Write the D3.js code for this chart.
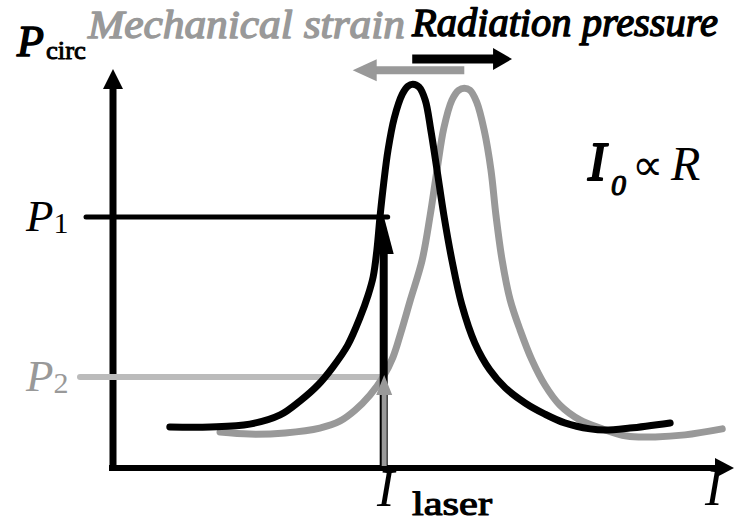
<!DOCTYPE html>
<html><head><meta charset="utf-8">
<script src="https://cdn.jsdelivr.net/npm/d3@7/dist/d3.min.js"></script>
<style>
html,body{margin:0;padding:0;background:#fff;}
svg{display:block;}
</style></head>
<body>
<svg id="c" width="742" height="522" font-family="'Liberation Serif','Times New Roman',serif"></svg>
<script>
// Data (arbitrary units: wavelength 0-100, circulating power 0-100)
const blackCurve = [[9.0,10.3],[15.5,10.3],[21.9,11.0],[26.8,13.3],[30.0,16.8],[32.9,20.8],[35.3,25.3],[37.7,30.8],[39.7,37.8],[41.0,43.4],[41.8,47.9],[42.4,54.6],[42.9,62.9],[43.5,71.4],[44.2,79.7],[45.2,87.7],[46.5,93.7],[47.4,95.7],[48.2,96.2],[49.2,95.5],[50.2,92.2],[51.1,84.7],[52.1,74.7],[53.2,63.4],[54.5,52.1],[56.1,40.9],[58.2,31.3],[60.6,24.6],[63.1,20.1],[66.3,16.3],[69.5,13.5],[72.7,11.3],[76.8,9.8],[79.2,9.5],[83.2,10.0],[89.7,11.3]];
const grayCurve = [[17.1,9.0],[21.9,8.5],[27.6,8.8],[33.2,10.0],[36.5,11.8],[38.9,14.5],[41.3,18.3],[43.4,22.8],[45.0,27.8],[46.3,34.1],[47.8,42.1],[49.7,52.1],[51.0,63.4],[52.1,74.7],[53.2,85.2],[54.5,92.2],[55.6,94.7],[56.5,95.2],[57.4,94.7],[58.5,91.7],[59.7,84.7],[60.8,74.7],[61.6,63.4],[62.6,52.1],[63.9,42.1],[65.5,34.6],[67.4,27.1],[69.5,20.8],[71.9,15.8],[75.2,12.0],[78.4,10.0],[82.7,8.0],[87.3,7.8],[92.1,8.3],[98.1,9.8]];
const lambdaLaser = 43.5;
const P1 = 62.9;
const P2 = 22.8;
const shiftRight = [48.1, 64.2, 102.5]; // radiation pressure arrow: from, to, level
const shiftLeft = [56.5, 38.5, 99.7];   // mechanical strain arrow: from, to, level

const svg = d3.select("#c");
const x = d3.scaleLinear().domain([0,100]).range([114,734]);
const y = d3.scaleLinear().domain([0,100]).range([468,69]);

function arrow(x1,y1,x2,y2,w,hl,hw,color){
  const dx=x2-x1, dy=y2-y1, L=Math.hypot(dx,dy), ux=dx/L, uy=dy/L;
  const bx=x2-ux*hl, by=y2-uy*hl;
  svg.append("line").attr("x1",x1).attr("y1",y1).attr("x2",bx+ux).attr("y2",by+uy)
    .attr("stroke",color).attr("stroke-width",w);
  svg.append("path").attr("fill",color)
    .attr("d",`M${x2},${y2}L${bx-uy*hw},${by+ux*hw}L${bx+uy*hw},${by-ux*hw}Z`);
}

// axes
arrow(x(0)-1, y(0)+3, x(0)-1, y(100), 7, 20, 10, "#000");
arrow(x(0)-5, y(0), x(100), y(0), 6, 19, 10, "#000");

// P1 / P2 guide lines
svg.append("line").attr("x1",86).attr("x2",x(lambdaLaser)+4).attr("y1",y(P1)).attr("y2",y(P1))
  .attr("stroke","#000").attr("stroke-width",5).attr("stroke-linecap","round");
svg.append("line").attr("x1",80).attr("x2",x(lambdaLaser)).attr("y1",y(P2)).attr("y2",y(P2))
  .attr("stroke","#bbb").attr("stroke-width",6).attr("stroke-linecap","round");

// curves
const line = d3.line().x(d=>x(d[0])).y(d=>y(d[1])).curve(d3.curveCatmullRom.alpha(0.5));
svg.append("path").datum(grayCurve).attr("d",line).attr("fill","none").attr("stroke","#999")
  .attr("stroke-width",7).attr("stroke-linecap","round").attr("stroke-linejoin","round");
svg.append("path").datum(blackCurve).attr("d",line).attr("fill","none").attr("stroke","#000")
  .attr("stroke-width",7).attr("stroke-linecap","round").attr("stroke-linejoin","round");

// laser arrows
arrow(x(lambdaLaser), y(0), x(lambdaLaser), y(P1)-1, 8, 38, 10, "#000");
arrow(x(lambdaLaser)+0.5, y(0)-2, x(lambdaLaser)+0.5, y(P2)-2, 5, 20, 8, "#999");

// shift arrows
arrow(x(shiftLeft[0]), y(shiftLeft[2]), x(shiftLeft[1]), y(shiftLeft[2]), 8, 24, 11, "#999");
arrow(x(shiftRight[0]), y(shiftRight[2]), x(shiftRight[1]), y(shiftRight[2]), 9, 19, 11, "#000");

// bold emulated with a thin stroke of the same colour
function bold(sel, color, w){ return sel.attr("stroke",color).attr("stroke-width",w).attr("stroke-linejoin","round"); }

// texts
const t = svg.append("text").attr("x",17).attr("y",56);
bold(t.append("tspan").text("P").attr("font-size",44).attr("font-style","italic"),"#000",1.6);
bold(t.append("tspan").text("circ").attr("font-size",25).attr("dy",3).attr("dx",2)
  .attr("textLength",40).attr("lengthAdjust","spacingAndGlyphs"),"#000",0.9);

bold(svg.append("text").attr("x",88).attr("y",38).attr("font-size",40)
  .attr("font-style","italic").attr("fill","#999").attr("textLength",317).attr("lengthAdjust","spacingAndGlyphs")
  .text("Mechanical strain"),"#999",1.4);
bold(svg.append("text").attr("x",412).attr("y",36).attr("font-size",40)
  .attr("font-style","italic").attr("fill","#000").attr("textLength",306).attr("lengthAdjust","spacingAndGlyphs")
  .text("Radiation pressure"),"#000",1.4);

function plabel(txt, sub, yy, color){
  const tt = svg.append("text").attr("x",26).attr("y",yy).attr("fill",color);
  tt.append("tspan").text(txt).attr("font-size",45).attr("font-style","italic");
  tt.append("tspan").text(sub).attr("font-size",30).attr("dy",2);
}
plabel("P","1",y(P1)+14,"#000");
plabel("P","2",y(P2)+14,"#999");

const l0 = svg.append("text").attr("y",180);
bold(l0.append("tspan").text("I").attr("x",588).attr("font-size",54).attr("font-style","italic"),"#000",2);
bold(l0.append("tspan").text("0").attr("x",611).attr("font-size",30).attr("font-style","italic").attr("dy",15),"#000",1.1);
l0.append("tspan").text("\u221D").attr("x",632).attr("font-size",44).attr("dy",-15);
l0.append("tspan").text("R").attr("x",671).attr("font-size",48).attr("font-style","italic");

const ll = svg.append("text").attr("y",506);
ll.append("tspan").text("I").attr("x",377).attr("font-size",52).attr("font-style","italic");
bold(ll.append("tspan").text("laser").attr("x",412).attr("font-size",33).attr("dy",9)
  .attr("textLength",80).attr("lengthAdjust","spacingAndGlyphs"),"#000",1.1);

svg.append("text").attr("x",705).attr("y",505).attr("font-size",52).attr("font-style","italic").text("I");
</script>
</body></html>
